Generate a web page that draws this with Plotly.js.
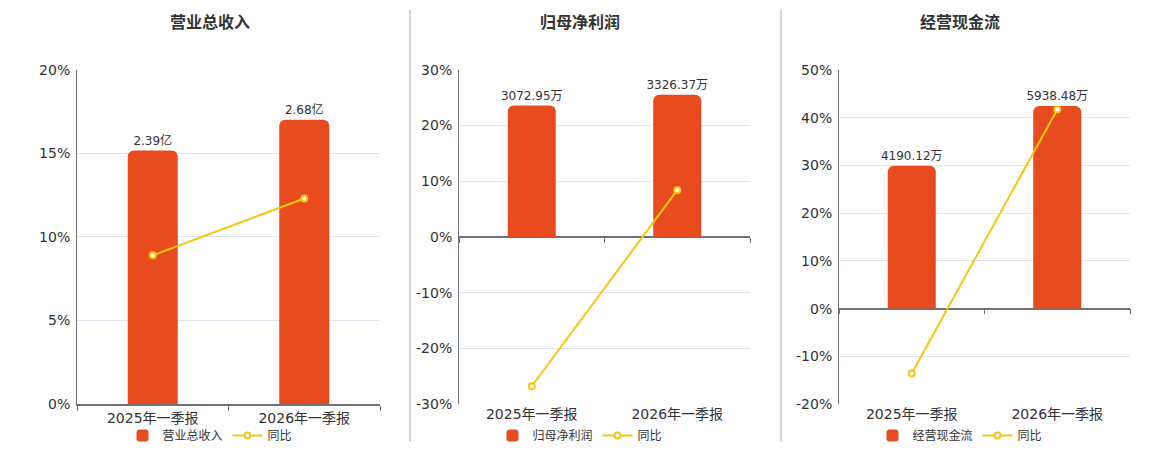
<!DOCTYPE html>
<html>
<head>
<meta charset="utf-8">
<script src="https://cdn.plot.ly/plotly-3.0.1.min.js"></script>
<style>
  html, body { margin: 0; padding: 0; background: #fff; }
  #chart { width: 1160px; height: 450px; }
</style>
</head>
<body>
<div id="chart"></div>
<script>
const periods = ['2025年一季报', '2026年一季报'];

const revenue = [2.39, 2.68];          // 亿
const revenueYoy = [8.9, 12.3];        // %
const profit = [3072.95, 3326.37];     // 万
const profitYoy = [-26.8, 8.4];
const cash = [4190.12, 5938.48];       // 万
const cashYoy = [-13.6, 41.7];

const titles = ['营业总收入', '归母净利润', '经营现金流'];
const pctTicks1 = [0, 5, 10, 15, 20];
const pctTicks2 = [-30, -20, -10, 0, 10, 20, 30];
const pctTicks3 = [-20, -10, 0, 10, 20, 30, 40, 50];

const barColor = '#e84c1e';
const lineColor = '#f3c712';
const font = 'DejaVu Sans, Noto Sans CJK SC, sans-serif';

function barTrace(name, vals, unit, xa, ya, legend) {
    return {
        type: 'bar', name: name, x: periods, y: vals,
        xaxis: xa, yaxis: ya, legend: legend,
        width: 0.33,
        marker: { color: barColor, cornerradius: 6 },
        text: vals.map(v => v.toFixed(2) + unit),
        textposition: 'outside',
        constraintext: 'none',
        textfont: { size: 12, color: '#333' },
        cliponaxis: false,
        hoverinfo: 'skip',
    };
}

function yoyTrace(vals, xa, ya, legend) {
    return {
        type: 'scatter', mode: 'lines+markers', name: '同比',
        x: periods, y: vals, xaxis: xa, yaxis: ya, legend: legend,
        line: { color: lineColor, width: 2 },
        marker: { symbol: 'circle', size: 6, color: '#fff', line: { color: lineColor, width: 2 } },
        cliponaxis: false,
        hoverinfo: 'skip',
    };
}

// empty helper traces so the zero-level tick axes get drawn
function tickHolder(xa, ya) {
    return { type: 'scatter', x: [null], y: [null], xaxis: xa, yaxis: ya, showlegend: false, hoverinfo: 'skip' };
}

const data = [
    barTrace(titles[0], revenue, '亿', 'x', 'y', 'legend'),
    yoyTrace(revenueYoy, 'x', 'y2', 'legend'),
    barTrace(titles[1], profit, '万', 'x2', 'y3', 'legend2'),
    yoyTrace(profitYoy, 'x2', 'y4', 'legend2'),
    barTrace(titles[2], cash, '万', 'x3', 'y5', 'legend3'),
    yoyTrace(cashYoy, 'x3', 'y6', 'legend3'),
    tickHolder('x4', 'y4'),
    tickHolder('x5', 'y6'),
];

const yDomain = [0.1, 0.8444];
const axisColor = '#6e7079';
const gridColor = '#e0e6f1';

function catAxis(domain, anchor, showline) {
    return {
        domain: domain, anchor: anchor, type: 'category',
        showline: showline, linecolor: axisColor, linewidth: 2,
        ticks: showline ? 'outside' : '', tickson: 'boundaries', ticklen: 5, tickcolor: axisColor,
        showgrid: false, zeroline: false,
        tickfont: { size: 14, color: '#333' },
        fixedrange: true,
    };
}

function hiddenAxis(anchor, range) {
    return {
        domain: yDomain, anchor: anchor, range: range,
        showgrid: false, zeroline: false, showticklabels: false, showline: false,
        fixedrange: true,
    };
}

function pctAxis(anchor, over, ticks) {
    return {
        domain: yDomain, anchor: anchor, overlaying: over, side: 'left',
        range: [ticks[0], ticks[ticks.length - 1]],
        tickvals: ticks, ticktext: ticks.map(v => v + '%'),
        showgrid: true, gridcolor: gridColor, gridwidth: 1,
        zeroline: true, zerolinecolor: axisColor, zerolinewidth: 2,
        showline: true, linecolor: axisColor, linewidth: 1,
        tickfont: { size: 14, color: '#333' },
        ticklabelstandoff: 3,
        fixedrange: true,
    };
}

function zeroAxis(over, domain, pos) {
    return {
        overlaying: over, domain: domain, anchor: 'free', position: pos,
        range: [-0.5, 1.5], tickvals: [-0.5, 0.5, 1.5],
        ticks: 'outside', ticklen: 5, tickcolor: axisColor,
        showticklabels: false, showline: false, showgrid: false, zeroline: false,
        fixedrange: true,
    };
}

function legendAt(x) {
    return {
        orientation: 'h', x: x, xanchor: 'center', y: 0.031, yanchor: 'middle',
        font: { size: 12, color: '#333' }, bgcolor: 'rgba(0,0,0,0)',
        itemwidth: 30, tracegroupgap: 0,
    };
}

const centers = [210, 580, 960];
const dom2 = [459 / 1160, 750 / 1160];
const dom3 = [839 / 1160, 1130 / 1160];

const layout = {
    width: 1160, height: 450,
    margin: { l: 0, r: 0, t: 0, b: 0 },
    paper_bgcolor: '#fff', plot_bgcolor: 'rgba(0,0,0,0)',
    font: { family: font, color: '#333' },
    barmode: 'group',
    showlegend: true,

    xaxis: catAxis([77 / 1160, 380 / 1160], 'y', true),
    yaxis: hiddenAxis('x', [0, 3.15]),
    yaxis2: pctAxis('x', 'y', pctTicks1),

    xaxis2: catAxis(dom2, 'y3', false),
    yaxis3: hiddenAxis('x2', [-3908, 3908]),
    yaxis4: pctAxis('x2', 'y3', pctTicks2),

    xaxis3: catAxis(dom3, 'y5', false),
    yaxis5: hiddenAxis('x3', [-2800, 7000]),
    yaxis6: pctAxis('x3', 'y5', pctTicks3),

    xaxis4: zeroAxis('x2', dom2, 1 - 238 / 450),
    xaxis5: zeroAxis('x3', dom3, 1 - 308.7 / 450),

    legend: legendAt(centers[0] / 1160),
    legend2: legendAt(centers[1] / 1160),
    legend3: legendAt(centers[2] / 1160),

    annotations: titles.map((t, i) => ({
        text: '<b>' + t + '</b>', xref: 'paper', yref: 'paper',
        x: centers[i] / 1160, y: 1 - 23 / 450, xanchor: 'center', yanchor: 'middle',
        showarrow: false, font: { size: 16, color: '#333' },
    })),

    shapes: [410, 781].map(px => ({
        type: 'line', xref: 'paper', yref: 'paper',
        x0: px / 1160, x1: px / 1160, y0: 1 - 10 / 450, y1: 1 - 443 / 450,
        line: { color: '#aaa', width: 1 },
    })),
};

Plotly.newPlot('chart', data, layout, { staticPlot: true });
</script>
</body>
</html>
